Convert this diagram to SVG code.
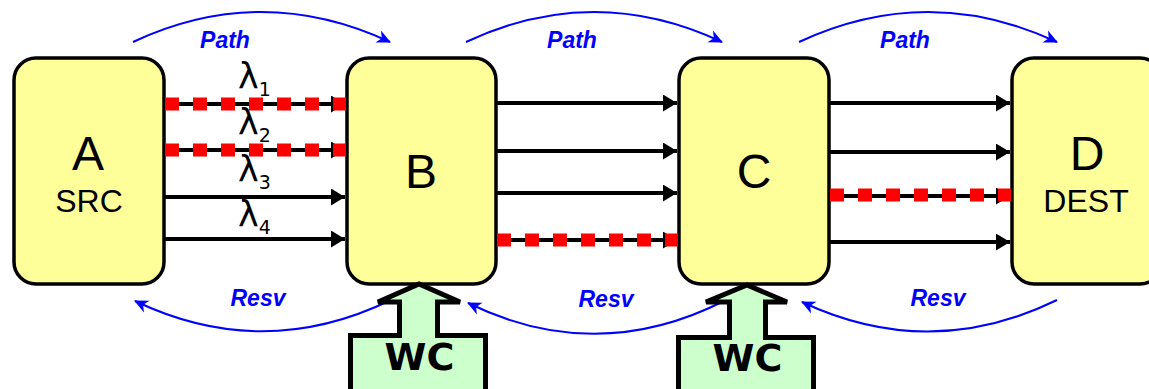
<svg xmlns="http://www.w3.org/2000/svg" width="1149" height="389" viewBox="0 0 1149 389">
<style>
.node{fill:#ffff99;stroke:#000;stroke-width:3.5}
.big{font-family:"Liberation Sans",Arial,sans-serif;font-size:48px;fill:#000;text-anchor:middle}
.sub{font-family:"Liberation Sans",Arial,sans-serif;font-size:32px;fill:#000;text-anchor:middle}
.ln{stroke:#000;stroke-width:4;fill:none}
.red{stroke:#ff0000;stroke-width:13;stroke-dasharray:14 14;fill:none}
.blue{stroke:#0000ff;stroke-width:2;fill:none}
.bl{font-family:"Liberation Sans",Arial,sans-serif;font-size:23px;font-weight:bold;font-style:italic;fill:#0000ff;text-anchor:middle}
.lam{font-family:"DejaVu Sans",sans-serif;font-size:35px;fill:#000}
.wc{fill:#ccffcc;stroke:#000;stroke-width:5;stroke-linejoin:miter}
.wct{font-family:"DejaVu Sans",sans-serif;font-size:38px;font-weight:bold;fill:#000;text-anchor:middle}
</style>
<defs>
<marker id="ah" markerUnits="userSpaceOnUse" viewBox="0 0 14 17" markerWidth="14" markerHeight="17" refX="14" refY="8.5" orient="auto">
<path d="M0,0 L14,8.5 L0,17 Z" fill="#000"/>
</marker>
<marker id="bh" markerUnits="userSpaceOnUse" viewBox="-14 -7 15 14" markerWidth="15" markerHeight="14" refX="0" refY="0" orient="auto">
<path d="M1,0 L-13,-6.5 L-9,0 L-13,6.5 Z" fill="#0000ff"/>
</marker>
</defs>
<g id="node-A"><rect class="node" x="14" y="58" width="150" height="226" rx="22"/><text class="big" x="88" y="170">A</text><text class="sub" x="89" y="212">SRC</text></g>
<g id="node-B"><rect class="node" x="347" y="58" width="149" height="226" rx="22"/><text class="big" x="421" y="188">B</text></g>
<g id="node-C"><rect class="node" x="679" y="58" width="150" height="226" rx="22"/><text class="big" x="754" y="188">C</text></g>
<g id="node-D"><rect class="node" x="1012" y="58" width="150" height="226" rx="22"/><text class="big" x="1087" y="170">D</text><text class="sub" x="1086" y="212">DEST</text></g>
<g id="connectors">
<line class="ln" x1="165" y1="104" x2="345" y2="104" marker-end="url(#ah)"/>
<line class="ln" x1="165" y1="150" x2="345" y2="150" marker-end="url(#ah)"/>
<line class="ln" x1="165" y1="197" x2="345" y2="197" marker-end="url(#ah)"/>
<line class="ln" x1="165" y1="239" x2="345" y2="239" marker-end="url(#ah)"/>
<line class="red" x1="165" y1="104" x2="346" y2="104"/>
<line class="red" x1="165" y1="150" x2="346" y2="150"/>
<line class="ln" x1="497" y1="103" x2="677" y2="103" marker-end="url(#ah)"/>
<line class="ln" x1="497" y1="151" x2="677" y2="151" marker-end="url(#ah)"/>
<line class="ln" x1="497" y1="193" x2="677" y2="193" marker-end="url(#ah)"/>
<line class="ln" x1="497" y1="240" x2="677" y2="240" marker-end="url(#ah)"/>
<line class="red" x1="497" y1="240" x2="678" y2="240"/>
<line class="ln" x1="830" y1="103" x2="1010" y2="103" marker-end="url(#ah)"/>
<line class="ln" x1="830" y1="152" x2="1010" y2="152" marker-end="url(#ah)"/>
<line class="ln" x1="830" y1="196" x2="1010" y2="196" marker-end="url(#ah)"/>
<line class="ln" x1="830" y1="242" x2="1010" y2="242" marker-end="url(#ah)"/>
<line class="red" x1="830" y1="195" x2="1011" y2="195"/>
<path class="blue" d="M133,42 Q261,-18 390,42" marker-end="url(#bh)"/>
<path class="blue" d="M466,42 Q594,-18 722,42" marker-end="url(#bh)"/>
<path class="blue" d="M799,42 Q928,-18 1057,42" marker-end="url(#bh)"/>
<path class="blue" d="M391,300 Q263,362 135,301" marker-end="url(#bh)"/>
<path class="blue" d="M726,300 Q597,366 468,303" marker-end="url(#bh)"/>
<path class="blue" d="M1057,300 Q930,362 802,302" marker-end="url(#bh)"/>
<text class="bl" x="225" y="48">Path</text>
<text class="bl" x="572" y="48">Path</text>
<text class="bl" x="905" y="48">Path</text>
<text class="bl" x="258" y="306">Resv</text>
<text class="bl" x="606" y="307">Resv</text>
<text class="bl" x="938" y="306">Resv</text>
<text class="lam" x="238" y="88">λ<tspan font-size="19" dy="8">1</tspan></text>
<text class="lam" x="238" y="134">λ<tspan font-size="19" dy="8">2</tspan></text>
<text class="lam" x="238" y="181">λ<tspan font-size="19" dy="8">3</tspan></text>
<text class="lam" x="238" y="226">λ<tspan font-size="19" dy="8">4</tspan></text>
</g>
<g id="wc-B"><path class="wc" d="M350.5,395 L350.5,335.5 L399.5,335.5 L399.5,302 L378,302 L419,284 L460,302 L437.5,302 L437.5,335.5 L485.5,335.5 L485.5,395 Z"/><text class="wct" x="419.5" y="370">WC</text></g>
<g id="wc-C"><path class="wc" d="M678.5,395 L678.5,337.5 L729.5,337.5 L729.5,302 L706,302 L747,285 L787,302 L765.5,302 L765.5,337.5 L813.5,337.5 L813.5,395 Z"/><text class="wct" x="747.5" y="371">WC</text></g>
</svg>
